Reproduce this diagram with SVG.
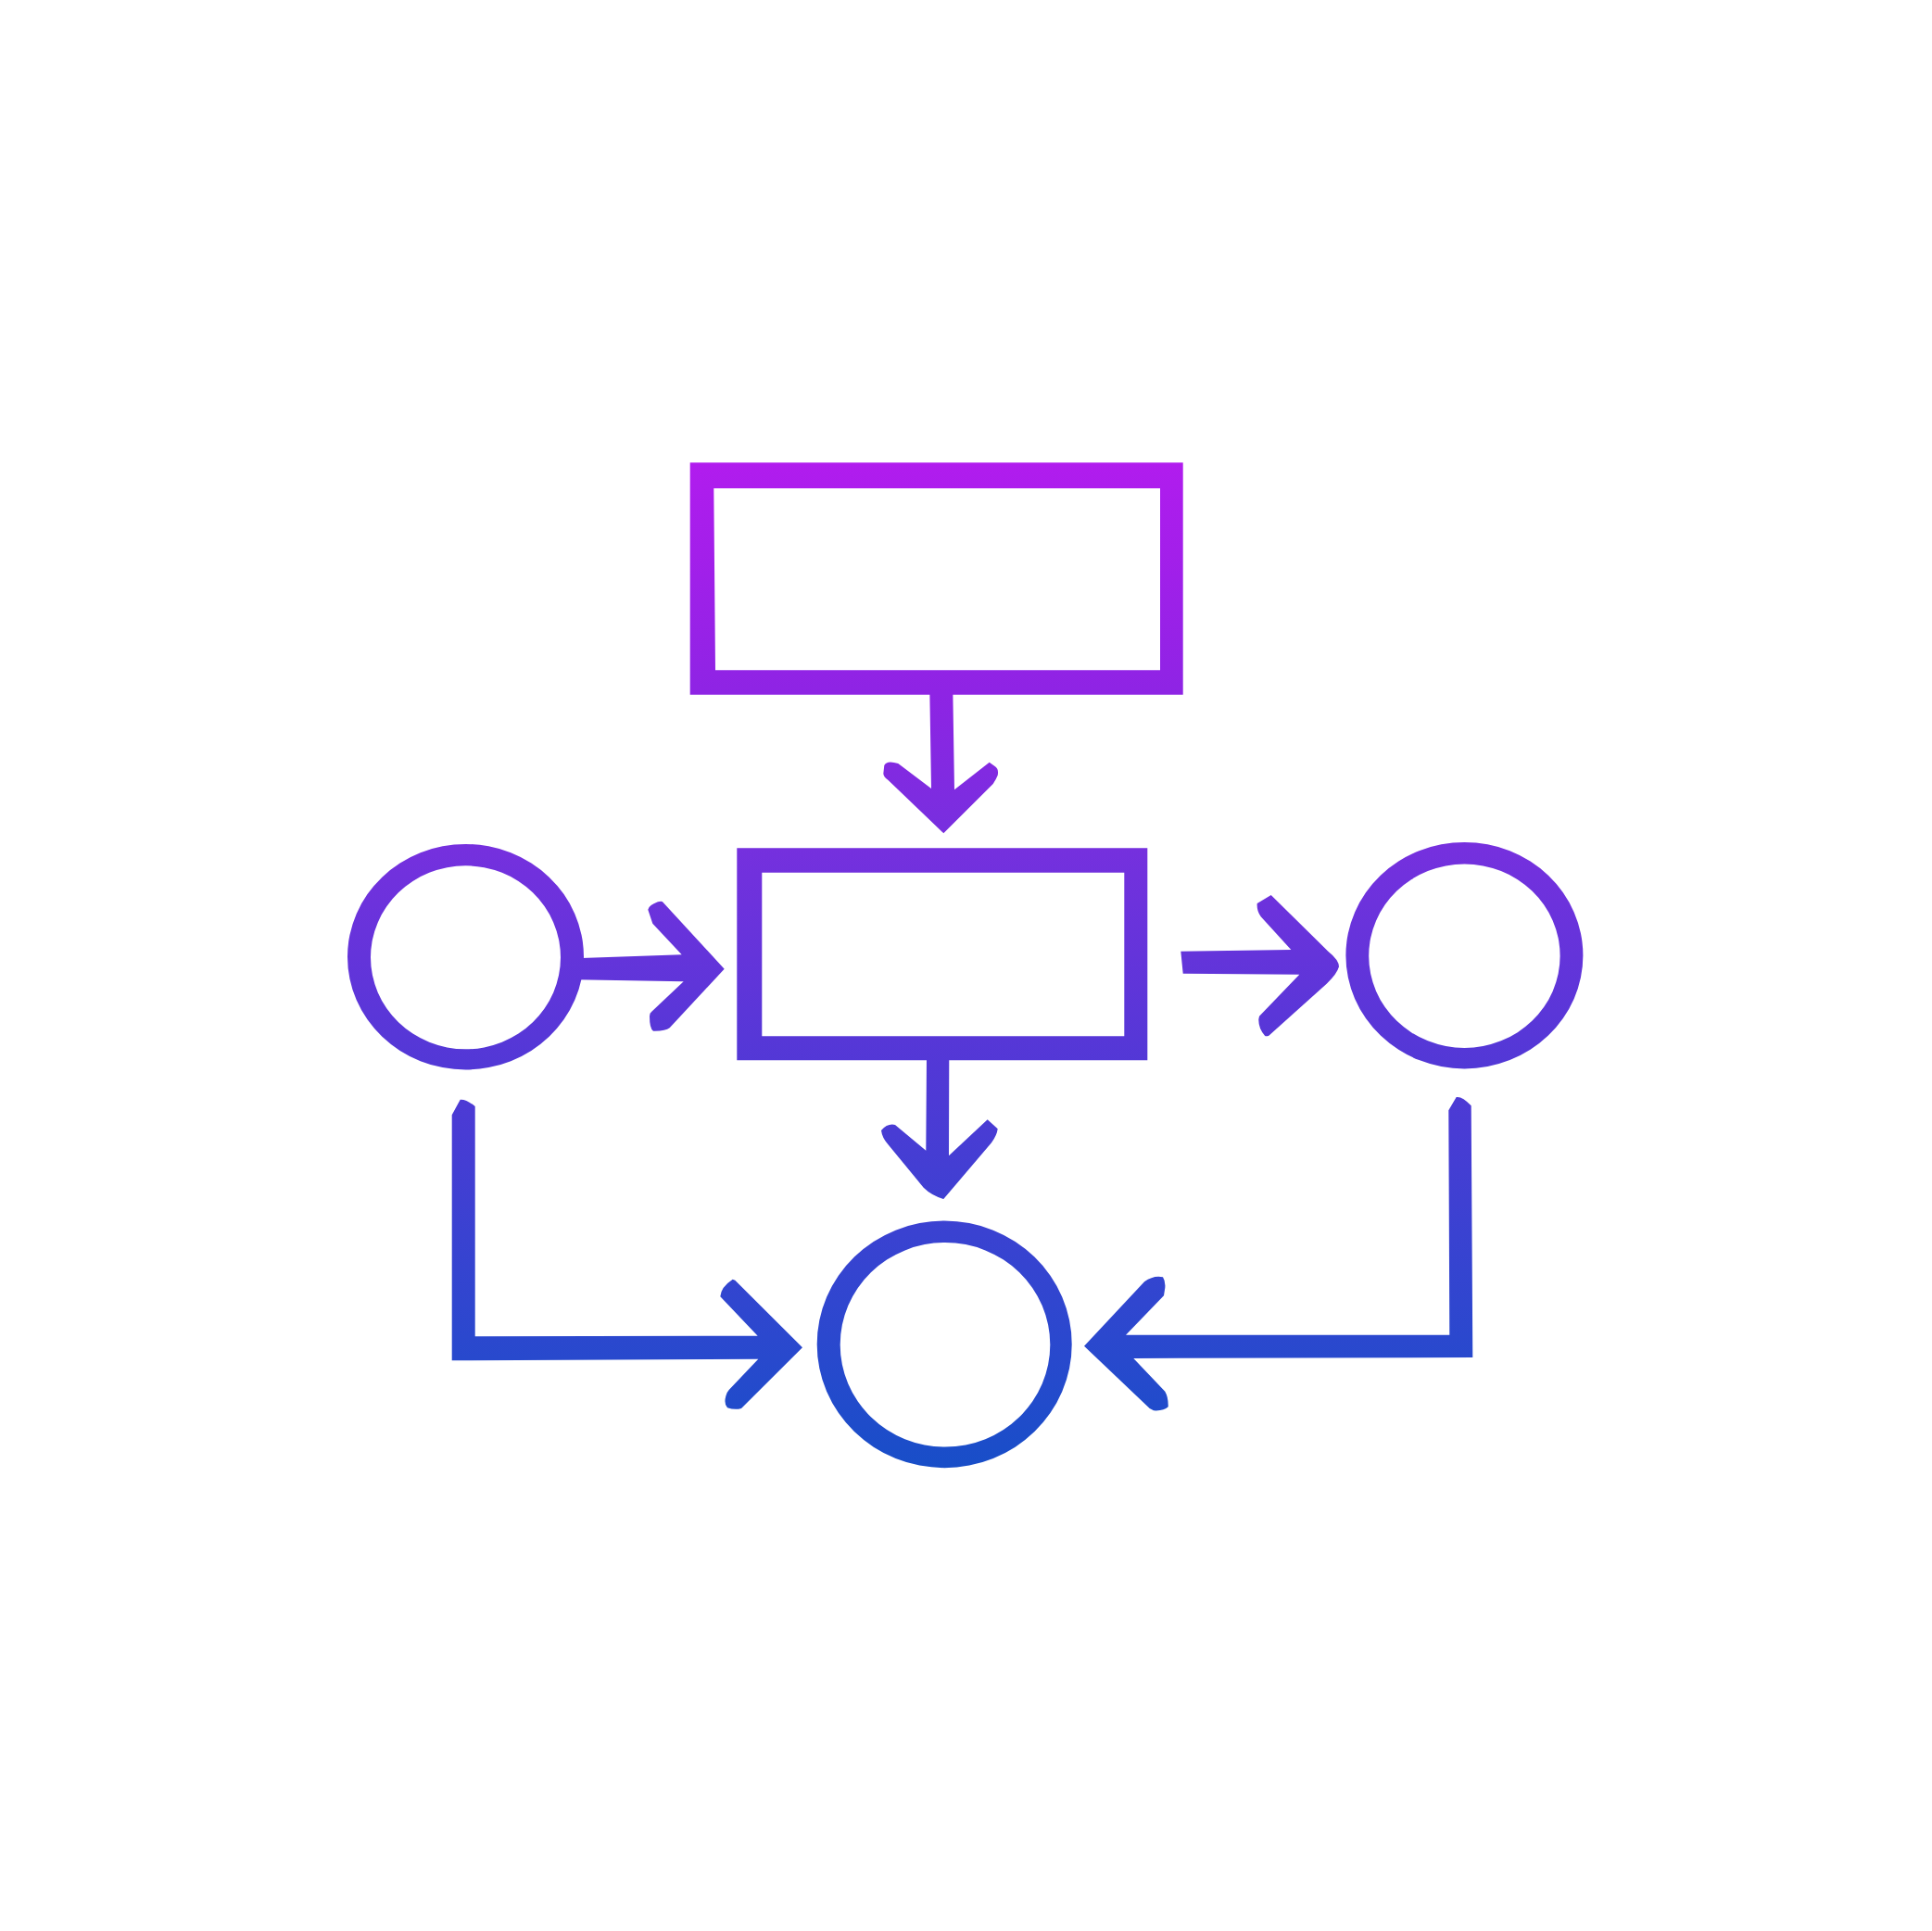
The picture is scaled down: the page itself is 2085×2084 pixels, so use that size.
<svg xmlns="http://www.w3.org/2000/svg" width="2085" height="2084" viewBox="0 0 2085 2084">
<defs>
<linearGradient id="g" gradientUnits="userSpaceOnUse" x1="0" y1="499" x2="0" y2="1584">
<stop offset="0" stop-color="#b11cee"/>
<stop offset="0.23" stop-color="#8e24e4"/>
<stop offset="0.385" stop-color="#7530de"/>
<stop offset="0.6" stop-color="#5238d6"/>
<stop offset="0.87" stop-color="#2b48ce"/>
<stop offset="1" stop-color="#184ec8"/>
</linearGradient>
<style>
.ink{fill:url(#g);fill-rule:evenodd;stroke:none}
</style>
</defs>
<rect width="2085" height="2084" fill="#ffffff"/>
<g id="connectors">
<path class="ink" d="M1003.3,745 L1005,851 L969.3,824 Q957,820 954.3,826 L953.3,835 Q954,839 958.3,841.7 L1018.3,899.3 L1071.7,846 Q1075,841 1076.7,836.7 Q1078,830 1074,827.3 L1067.7,822.7 L1030,852.3 L1028.3,745 Z"/>
<path class="ink" d="M1000,1140 L999.3,1241.7 L966,1214 Q958,1212 951,1220 Q952,1228 958.3,1235 L996.7,1281.7 Q1005,1290 1018.3,1294 L1070,1233.3 Q1076,1225 1076.7,1218.3 L1065.7,1208.3 L1024,1247.3 L1024.3,1140 Z"/>
<path class="ink" d="M620,1034.3 L735.7,1030.3 L704.3,996.7 L699.3,981.7 Q700,977 710,973.3 Q714,972 715,973.3 L781.7,1045.7 L722.7,1109.3 Q718,1113 705,1112.7 Q701,1110 701,1096.7 Q701,1093 703.3,1091.7 L737.7,1059.3 L622,1057.3 Z"/>
<path class="ink" d="M1274.3,1026.7 L1393.3,1025 L1360.7,989.3 Q1356,983 1356.7,975 L1371.7,966 L1433.3,1026.7 Q1445,1036 1445,1043.3 Q1443,1051 1431.7,1061.7 L1369.3,1117.7 Q1366,1119 1365,1117.7 Q1358,1110 1358.3,1100 L1359,1096.7 L1402.3,1051.7 L1276.7,1050.7 Z"/>
<path class="ink" d="M487.7,1203.3 L496.7,1186.7 Q503,1186 512.7,1194 L512.7,1442.3 L817.7,1441.7 L777.3,1399.3 Q778,1389 790.7,1380.7 L793.3,1381.7 L866,1454.3 L800,1520 Q793,1522 785,1519.3 Q781,1515 783.3,1506.7 Q784,1503 786.7,1500 L818.3,1466.7 L487.7,1468.3 Z"/>
<path class="ink" d="M1563.3,1198.3 L1571.7,1184 Q1578,1183 1587.7,1193.3 L1589.3,1465 L1223.3,1466 L1257.3,1501.7 Q1261,1508 1260.7,1518.3 Q1256,1523 1245,1522.3 L1240.7,1520 L1170,1452.7 L1235,1383.3 Q1245,1376 1255,1378.3 Q1258,1383 1257.3,1390 L1256,1398.3 L1215,1440.7 L1564.3,1440.7 Z"/>
</g>
<g id="top-rect">
<path class="ink" d="M744.7,499.3 H1276.7 V749.7 H744.7 Z M770.3,527 L772,723.3 H1252 V527 Z"/>
</g>
<g id="middle-rect">
<path class="ink" d="M795.3,915.3 H1238.3 V1144.3 H795.3 Z M822.3,941.7 V1118.3 H1213.3 V941.7 Z"/>
</g>
<g id="left-circle">
<path class="ink" d="M375,1032.7 a127.5,121.7 0 1,0 255,0 a127.5,121.7 0 1,0 -255,0 Z M400,1033.3 a102.5,99 0 1,0 205,0 a102.5,99 0 1,0 -205,0 Z"/>
</g>
<g id="right-circle">
<path class="ink" d="M1452.4,1031.2 a128,122.2 0 1,0 256,0 a128,122.2 0 1,0 -256,0 Z M1477.2,1031.7 a103.2,99.2 0 1,0 206.4,0 a103.2,99.2 0 1,0 -206.4,0 Z"/>
</g>
<g id="bottom-circle">
<path class="ink" d="M881.7,1450.8 a137.5,133.2 0 1,0 275,0 a137.5,133.2 0 1,0 -275,0 Z M906.7,1451.3 a113.3,110.3 0 1,0 226.6,0 a113.3,110.3 0 1,0 -226.6,0 Z"/>
</g>
</svg>
